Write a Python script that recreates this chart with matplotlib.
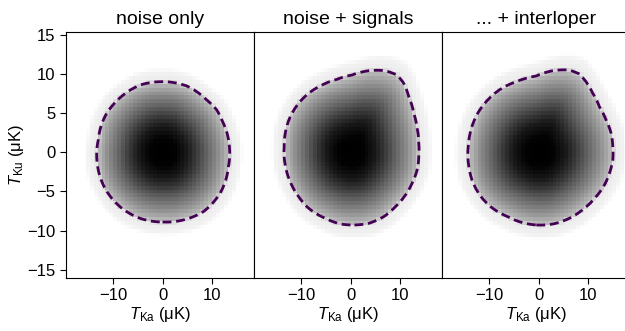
import numpy as np
import matplotlib.pyplot as plt

plt.rcParams['font.family'] = ['Liberation Sans', 'DejaVu Sans']
plt.rcParams['mathtext.fontset'] = 'custom'
plt.rcParams['mathtext.rm'] = 'Liberation Sans'
plt.rcParams['mathtext.it'] = 'Liberation Sans:italic'

titles = ['noise only', 'noise + signals', '... + interloper']

# dashed contour of each panel (uK)
noise_x = [-0.69, 4.87, 8.92, 10.95, 11.97, 13.51, 13.31, 11.62, 8.24, 4.18, 0.0,
           -4.6, -8.66, -11.7, -13.27, -13.06, -11.36, -10.0, -7.99, -4.6]
noise_y = [9.0, 8.46, 6.67, 5.4, 4.12, 0.71, -1.84, -5.23, -7.57, -8.63, -8.89,
           -8.42, -6.94, -4.59, -1.4, 1.57, 4.97, 6.1, 7.31, 8.58]

signal_x = [0.26, 3.65, 7.02, 9.39, 10.75, 11.76, 12.78, 13.45, 13.79, 13.79,
            13.45, 12.43, 11.08, 9.05, 6.69, 3.65, 0.26, -2.11, -5.15, -8.52,
            -10.55, -12.25, -13.27, -13.47, -13.27, -12.25, -10.55, -8.52, -5.82, -2.78]
signal_y = [9.86, 10.41, 10.41, 9.86, 8.8, 7.1, 4.97, 3.06, 1.15, -0.56,
            -2.26, -3.95, -5.45, -6.94, -8.21, -9.06, -9.27, -9.14, -8.42, -7.14,
            -5.66, -3.75, -1.62, 0.71, 2.42, 4.54, 6.25, 7.53, 8.58, 9.31]

interloper_x = [-0.55, 2.84, 6.21, 8.24, 9.59, 10.95, 12.29, 13.65, 14.67, 15.01,
                15.01, 14.32, 13.31, 11.62, 9.25, 6.21, 2.84, -0.55, -3.25, -6.29,
                -9.33, -11.7, -13.39, -14.2, -14.28, -13.73, -12.37, -10.34, -7.99, -4.6, -2.58]
interloper_y = [9.73, 10.41, 10.5, 9.99, 9.0, 7.53, 5.82, 4.12, 2.42, 0.71,
                -0.98, -2.68, -4.17, -5.66, -7.14, -8.42, -9.15, -9.27, -8.98, -8.21,
                -7.14, -5.66, -3.75, -1.62, 0.71, 2.84, 4.97, 6.67, 7.95, 9.0, 9.44]

# grey level (0 white .. 1 black) against distance scaled to the contour
profile_r = [0.0, 0.2, 0.37, 0.5, 0.67, 0.85, 0.97, 1.03, 1.14, 1.2]
profile_level = [1.0, 0.99, 0.9, 0.78, 0.6, 0.42, 0.28, 0.08, 0.05, 0.0]

xticks = [-10, 0, 10]
yticks = [-15, -10, -5, 0, 5, 10, 15]

# x uK are drawn narrower than y uK on screen
X_SQUEEZE = 4.93 / 7.84


def scaled_radius(cx, cy, X, Y):
    """Distance from the origin divided by the contour radius at that angle
    (worked out in screen-like units so round shapes stay round)."""
    cx = np.asarray(cx) * X_SQUEEZE
    cy = np.asarray(cy)
    X = X * X_SQUEEZE
    ang = np.arctan2(cy, cx)
    rad = np.hypot(cx, cy)
    order = np.argsort(ang)
    ang, rad = ang[order], rad[order]
    ang = np.concatenate([ang - 2 * np.pi, ang, ang + 2 * np.pi])
    rad = np.tile(rad, 3)
    R = np.interp(np.arctan2(Y, X), ang, rad)
    return np.hypot(X, Y) / R


xedges = np.arange(-20.4, 20.5, 0.8)
yedges = np.arange(-16.25, 16.3, 0.5)
Xc, Yc = np.meshgrid(0.5 * (xedges[:-1] + xedges[1:]), 0.5 * (yedges[:-1] + yedges[1:]))
Xf, Yf = np.meshgrid(np.linspace(-20, 20, 500), np.linspace(-16, 16, 500))

fig = plt.figure(figsize=(6.25, 3.31), dpi=100)
W, H = 625.0, 331.0
lefts = [66, 254, 442]
contours = [(noise_x, noise_y), (signal_x, signal_y), (interloper_x, interloper_y)]

for i, (left, title, (cx, cy)) in enumerate(zip(lefts, titles, contours)):
    ax = fig.add_axes([left / W, 53.3 / H, 188 / W, 245.7 / H])
    lev = np.interp(scaled_radius(cx, cy, Xc, Yc), profile_r, profile_level, right=0.0)
    ax.pcolormesh(xedges, yedges, np.ma.masked_less_equal(lev, 0.0),
                  cmap='gray_r', vmin=0, vmax=1)
    cs = ax.contour(Xf, Yf, scaled_radius(cx, cy, Xf, Yf), levels=[1.0],
                    colors='#440154', linewidths=2.0)
    cs.set_linestyle((0, (3.2, 1.7)))
    ax.set_xlim(-19.6, 18.5)
    ax.set_ylim(-16.0, 15.35)
    ax.set_xticks(xticks)
    ax.set_yticks(yticks)
    ax.tick_params(labelsize=12, length=4, width=0.8)
    ax.set_xlabel(r'$T_{\rm Ka}$ ($\rm\mu$K)', fontsize=12, labelpad=1)
    ax.set_title(title, fontsize=14, pad=6)
    if i == 0:
        ax.set_ylabel(r'$T_{\rm Ku}$ ($\rm\mu$K)', fontsize=12, labelpad=1)
    else:
        ax.tick_params(axis='y', left=False, labelleft=False)

fig.savefig('out.png', dpi=100)
